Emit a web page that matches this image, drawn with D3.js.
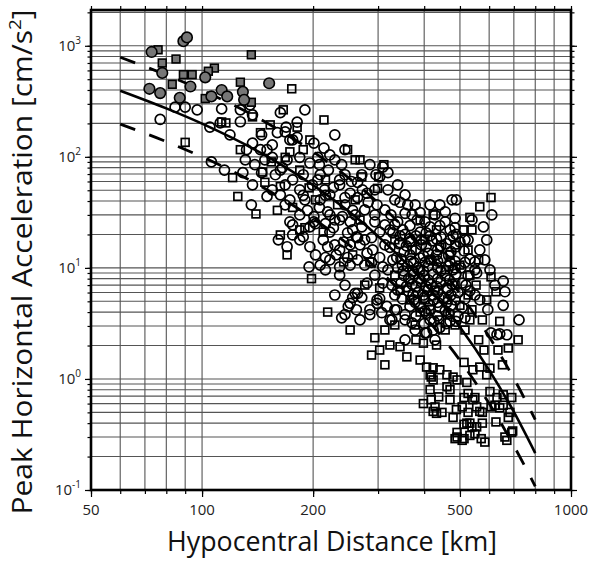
<!DOCTYPE html>
<html>
<head>
<meta charset="utf-8">
<script src="https://cdn.jsdelivr.net/npm/d3@7"></script>
<style>
  body { margin: 0; background: #fff; }
  svg { display: block; font-family: "Open Sans", "DejaVu Sans", sans-serif; }
</style>
</head>
<body>
<svg id="chart" width="591" height="564"></svg>
<script>
// tick labels
var xTicks = [50, 100, 200, 500, 1000];
var yExponents = [-1, 0, 1, 2, 3];

// attenuation curve and +/- one sigma
var lineDist = [60, 80, 100, 150, 200, 300, 400, 500, 600, 700, 800];
var meanPGA  = [394, 273, 199, 101, 55.6, 19.3, 7.35, 2.93, 1.20, 0.505, 0.215];
var upperPGA = [788, 546, 398, 202, 111, 38.6, 14.7, 5.86, 2.40, 1.01, 0.43];
var lowerPGA = [197, 137, 100, 50.5, 27.8, 9.65, 3.68, 1.47, 0.60, 0.25, 0.108];

// [distance km, pga cm/s2]
var greyCircles = [[73,880],[89,1100],[91,1190],[78,570],[72,410],[77,375],[87,340],[93,430],
  [102,520],[106,350],[113,400],[117,350],[129,385],[130,326],[152,460]];

var greySquares = [[76,920],[78,700],[85,760],[136,830],[89,550],[94,550],[108,630],[104,590],
  [83,450],[127,470],[136,310],[102,335]];

var openCircles = [
  [77,217],[84.5,280],[90,280],[97,265],[113,270],[105,185],[112,202],[119,158],[127,207],[135,294],
  [137,239],[127,265],[106,90],[115,76],[129,72],[137,56],[136,37],[132,116],[137,133],
  [145,72],[150,116],[163,250],[160,165],[169,185],[176,142],[155,99],[165,80],[176,62],[145,158],
  [168,168],[181,150],[155,128],[144,116],[150,44],[155,50.5],[163,76],[170,94],[181,205],[163,45.5],
  [173,41],[184,50.5],[168,37],
  [190,265],[184,99],[196,88],[188,69],[206,62],[216,45],[188,45],[201,29],[201,133],[214,120],
  [206,99],[222,104],[239,85],[209,69],[236,56],[215,50.5],[227,53],[236,62],[252,47],[256,33],
  [240,29],[229,27],[216,25],[219,32],[209,41],[193,33],[201,26],[188,19],[196,15.5],[219,15.5],
  [227,23],[236,27],[222,21],[184,17.9],[161,17.9],[173,26],[176,24.4],[196,23.4],[203,25],[195,10.2],
  [216,9.6],[236,8.6],[209,10.6],[222,11.8],[231,13.1],[239,3.55],[249,4.5],[229,158],[244,116],
  [248,20.7],[256,22],[264,18.7],[242,17.1],[236,10.2],[252,10.6],[264,11.8],[280,13.6],[288,11.2],
  [303,12.4],[309,10.2],[329,11.8],[323,15.3],[344,16.9],[262,19],[276,17.9],[290,14.5],[337,12.4],
  [248,12.4],[236,14.5],[285,85],[309,81],[319,72],[296,69],[264,59],[264,43],[280,47],[294,50.5],
  [303,66],[271,69],[282,39],[298,37],[344,39],[361,37],[355,31],[415,37],[325,30],[294,26],
  [271,23.4],[303,21],[350,22],[383,27],[390,21],[366,17.1],[415,23.4],[428,30],[260,5.9],[271,5.4],
  [280,7.3],[298,5.15],[317,4.5],[337,4.2],[285,4.2],[307,3.95],[323,3.4],[256,5.4],[264,5.9],
  [252,4.8],[262,4.2],[285,3.8],[298,4.8],[333,4.2],[327,3.4],[355,2.25],[402,2.6],[428,2.25],
  [303,5.3],[244,37],[260,30],[276,33.3],[313,33.3],[333,24.4],[252,16.1],
  [441,37],[476,41],[489,41],[485,28],[610,30],[579,23.4],[591,17.9],[539,27],[470,22],[516,17.9],
  [456,26],
  [555,9],[655,7.6],[662,6.1],[655,4.6],[723,3.4],[630,2.5],[607,2.6],[641,2.55],[670,2.5],
  [406,2.6],[423,2.76],[584,11.8],[566,14.5],[549,11.3],[603,9.6],[622,7.0],[566,5.15],[595,4.2],
  [208,85],[220,76],[229,94],[244,69],[254,60],[272,50.5],[222,45.5],[244,43],[199,56],[190,41],
  [208,35],[222,30],[252,26],[213,17.9],[229,16.1],[203,13.1],[216,12.4],[184,30],[176,19.8],
  [170,15.5],[268,16.1],[288,18.7],[313,16.1],[329,20.7],[313,24.4],[294,30],[333,41],[319,50.5],
  [339,56],[355,45.5],[378,37],[390,31.5],[276,10.6],[294,8.6],[319,9.6],[327,7.0],[309,7.3],
  [333,5.7],[244,7.0],[229,5.7],[244,3.8],[268,3.4],[158,69],[168,56],[148,94],[139,85],[131,94],
  [173,142],
  [355,20],[380,19.4],[405,20.7],[444,19],[488,20],
  [342,16.5],[368,17.5],[393,16.1],[420,17.5],[459,16.5],[500,17.1],
  [353,14],[380,14.5],[410,13.5],[435,14.5],[473,14],[513,14.2],
  [346,12],[368,11.5],[390,12.3],[418,11.8],[450,12.3],[485,11.5],[532,12],
  [339,10],[361,10.4],[385,10],[410,10.4],[435,10],[466,10.4],[503,10],
  [353,8.5],[375,8.8],[400,8.5],[423,8.8],[456,8.5],[488,8.8],[526,8.5],
  [346,7.3],[371,7.1],[393,7.5],[418,7.1],[444,7.5],[476,7.1],[507,7.3],
  [361,6.2],[385,6.0],[410,6.3],[435,6.0],[463,6.3],[494,6.0],[532,6.2],
  [349,5.25],[375,5.15],[400,5.4],[423,5.15],[453,5.4],[485,5.15],[516,5.25],
  [366,4.5],[390,4.4],[415,4.6],[441,4.4],[473,4.6],[507,4.4],
  [355,3.8],[380,3.7],[405,3.9],[435,3.7],[466,3.9],[494,3.7],
  [371,3.2],[400,3.15],[425,3.3],[459,3.15],[488,3.3],
  [339,26],[366,24],[402,26],[441,24],[485,23],[323,22],[371,30],[456,32],
  [366,18.3],[393,17.9],[432,18.2],[470,17.9],[358,15.8],[405,15.5],[444,15.8],[488,15.5],
  [366,13.1],[398,12.9],[432,13.1],[466,12.9],[375,11.2],[402,11.2],[435,11.5],[470,11.2],
  [351,9.4],[373,9.4],[398,9.4],[444,9.4],[479,9.6],[363,8.0],[388,8.0],[410,7.8],[435,8.0],
  [468,7.8],[358,6.8],[380,6.8],[405,6.8],[432,6.8],[461,6.6],[373,5.7],[398,5.7],[423,5.7],
  [473,5.7],[378,4.9],[435,4.9],[461,4.9],[402,4.1],[456,4.1],
  [344,19.4],[415,19.4],[479,19.4],[526,17.9],[349,10.6],[485,10],[516,11.2],[549,9.6],[339,6.3],
  [519,7.0],[549,5.7],[355,3.4],[415,3.4],[470,3.3],[516,3.55],[378,2.76],[441,2.9]
];

var openSquares = [
  [175,410],[166,265],[137,229],[116,202],[90,135],[127,116],[121,65],[125,44],[148,59],[163,54],
  [144,165],[173,111],[214,215],[113,206],[181,185],[140,30.6],[160,33],[176,35],[146,73],[154,90],
  [168,99],[188,116],[195,52.5],[163,19.8],[184,22],[170,13.1],[198,8.0],[242,11.3],[219,4.0],
  [311,85],[301,66],[271,66],[299,52],[256,13.1],[285,11.3],[303,6.6],[390,27],[423,30],[432,22],
  [510,22],[539,22],[532,28.5],[566,35.5],[607,43],[607,8.3],[626,6.1],[641,3.3],[719,2.25],
  [676,1.9],[634,1.82],[652,1.34],[603,1.25],[562,2.25],[581,1.82],[268,27],[260,94],
  [216,62],[233,37],[260,41],[190,23],[213,21],[276,7.0],[313,2.76],[294,2.35],[333,3.06],[252,2.76],
  [203,41],[184,76],[196,142],[153,194],[248,116],[268,94],
  [288,1.64],[303,1.82],[313,1.34],[323,2.02],[344,1.95],[359,1.58],[390,1.48],[398,2.1],[406,1.28],
  [423,1.26],[432,2.02],[415,1.09],[380,2.25],[423,0.98],[415,0.80],[441,1.21],[461,0.85],[491,0.98],
  [522,0.93],[418,1.04],[461,1.09],[479,1.04],[542,1.21],[513,1.41],[566,1.28],[591,1.09],[603,0.77],
  [438,0.69],[470,0.80],[526,0.74],[549,0.68],[630,0.68],[655,0.72],[691,0.68],[398,0.60],[428,0.56],
  [447,0.50],[432,0.49],[479,0.45],[507,0.56],[526,0.50],[555,0.56],[575,0.50],[607,0.56],[641,0.55],
  [676,0.45],[691,0.33],[670,0.28],[626,0.41],[491,0.33],[507,0.28],[485,0.29],[532,0.31],[555,0.37],
  [571,0.29],[584,0.27],[575,0.40],[532,0.40],[513,0.39],[418,0.65],[423,0.51],[470,0.65],[489,0.53],
  [513,0.68],[542,0.65],[566,0.51],[522,0.40],[539,0.37],[491,0.30],[513,0.29],[549,0.32],[622,0.58],
  [655,0.58],[683,0.50],[695,0.34],[662,0.30],
  [456,2.76],[485,3.06],[516,2.76],[532,3.4],[470,3.8],[500,4.6],[539,4.2],[441,3.4],[378,3.06],
  [390,4.0],[366,5.15],[463,5.15],[526,5.7],[553,7.0],[532,8.6],[500,10.6],[470,13.1],[441,15.2],
  [485,16.1],[526,14.5],[415,11.8],[390,9.6],[366,7.8],[428,6.3],[402,5.15],[344,6.3],[333,8.6],
  [333,17.9],[371,14.5],[402,17.9],[456,9.6],[485,7.0],[415,4.2],[575,3.4],[591,5.15],[562,11.8]
];

var svg = d3.select('#chart');

var x = d3.scaleLog().domain([50, 1000]).range([91, 571]);
var y = d3.scaleLog().domain([0.1, 2100]).range([490, 10]);

var R = 5.0, S = 7.8;

// grid
var xGrid = x.ticks().filter(function (d) { return d > 50 && d < 1000; });
var yGrid = y.ticks().filter(function (d) { return d > 0.1 && d <= 2000; });

var grid = svg.append('g').attr('stroke', '#555').attr('stroke-width', 1.1);
grid.selectAll('line.v').data(xGrid).enter().append('line')
  .attr('x1', function (d) { return x(d); }).attr('x2', function (d) { return x(d); })
  .attr('y1', 10).attr('y2', 490);
grid.selectAll('line.h').data(yGrid).enter().append('line')
  .attr('y1', function (d) { return y(d); }).attr('y2', function (d) { return y(d); })
  .attr('x1', 91).attr('x2', 571);

// open markers
var marks = svg.append('g').attr('fill', 'none').attr('stroke', '#000').attr('stroke-width', 1.7);
marks.selectAll('rect').data(openSquares).enter().append('rect')
  .attr('x', function (d) { return x(d[0]) - S / 2; })
  .attr('y', function (d) { return y(d[1]) - S / 2; })
  .attr('width', S).attr('height', S);
marks.selectAll('circle').data(openCircles).enter().append('circle')
  .attr('cx', function (d) { return x(d[0]); })
  .attr('cy', function (d) { return y(d[1]); })
  .attr('r', R);

// curves
var line = d3.line()
  .x(function (d) { return x(d[0]); })
  .y(function (d) { return y(d[1]); })
  .curve(d3.curveMonotoneX);

function pairs(vals) { return lineDist.map(function (d, i) { return [d, vals[i]]; }); }

svg.append('path').datum(pairs(meanPGA)).attr('d', line)
  .attr('fill', 'none').attr('stroke', '#000').attr('stroke-width', 2.6);
[upperPGA, lowerPGA].forEach(function (v) {
  svg.append('path').datum(pairs(v)).attr('d', line)
    .attr('fill', 'none').attr('stroke', '#000').attr('stroke-width', 2.8)
    .attr('stroke-dasharray', '16,15');
});

// grey markers on top
var grey = svg.append('g').attr('fill', '#767676').attr('stroke', '#000').attr('stroke-width', 1.6);
grey.selectAll('rect').data(greySquares).enter().append('rect')
  .attr('x', function (d) { return x(d[0]) - S / 2; })
  .attr('y', function (d) { return y(d[1]) - S / 2; })
  .attr('width', S).attr('height', S);
grey.selectAll('circle').data(greyCircles).enter().append('circle')
  .attr('cx', function (d) { return x(d[0]); })
  .attr('cy', function (d) { return y(d[1]); })
  .attr('r', R + 0.3);

// ticks on all four sides, labels drawn separately
function ticks(axis, tx, ty, vals, size) {
  var g = svg.append('g').attr('transform', 'translate(' + tx + ',' + ty + ')')
    .call(axis.tickValues(vals).tickSize(size));
  g.select('.domain').remove();
  g.selectAll('text').remove();
  g.selectAll('line').attr('stroke', '#000').attr('stroke-width', 1.2);
}
var xAll = x.ticks(), yAll = y.ticks().filter(function (d) { return d <= 2000; });
var yMajor = yExponents.map(function (e) { return Math.pow(10, e); });
ticks(d3.axisBottom(x), 0, 490, xAll, 4);
ticks(d3.axisBottom(x), 0, 490, xTicks, 7);
ticks(d3.axisTop(x), 0, 10, xAll, 4);
ticks(d3.axisLeft(y), 91, 0, yAll, 3.5);
ticks(d3.axisLeft(y), 91, 0, yMajor, 6);
ticks(d3.axisRight(y), 571, 0, yAll, 3.5);
ticks(d3.axisRight(y), 571, 0, yMajor, 6);

// frame
svg.append('rect').attr('x', 91).attr('y', 10).attr('width', 480).attr('height', 480)
  .attr('fill', 'none').attr('stroke', '#000').attr('stroke-width', 2.6);

// tick labels
svg.selectAll('text.xl').data(xTicks).enter().append('text')
  .attr('class', 'xl')
  .attr('x', function (d) { return x(d); }).attr('y', 515)
  .attr('text-anchor', 'middle').attr('font-size', 15).attr('fill', '#222')
  .text(function (d) { return d; });

var yl = svg.selectAll('text.yl').data(yExponents).enter().append('text')
  .attr('class', 'yl')
  .attr('x', 81).attr('y', function (e) { return y(Math.pow(10, e)) + 5; })
  .attr('text-anchor', 'end').attr('font-size', 15).attr('fill', '#222');
yl.append('tspan').text('10');
yl.append('tspan').attr('font-size', 10).attr('dy', -7).text(function (e) { return e; });

// axis titles
svg.append('text').attr('x', 332).attr('y', 551)
  .attr('text-anchor', 'middle').attr('font-size', 27).attr('fill', '#111')
  .attr('textLength', 330).attr('lengthAdjust', 'spacingAndGlyphs')
  .text('Hypocentral Distance [km]');

var yt = svg.append('text').attr('transform', 'translate(32,262) rotate(-90)')
  .attr('text-anchor', 'middle').attr('font-size', 27).attr('fill', '#111')
  .attr('textLength', 505).attr('lengthAdjust', 'spacingAndGlyphs');
yt.append('tspan').text('Peak Horizontal Acceleration [cm/s');
yt.append('tspan').attr('font-size', 17).attr('dy', -11).text('2');
yt.append('tspan').attr('dy', 11).text(']');
</script>
</body>
</html>
